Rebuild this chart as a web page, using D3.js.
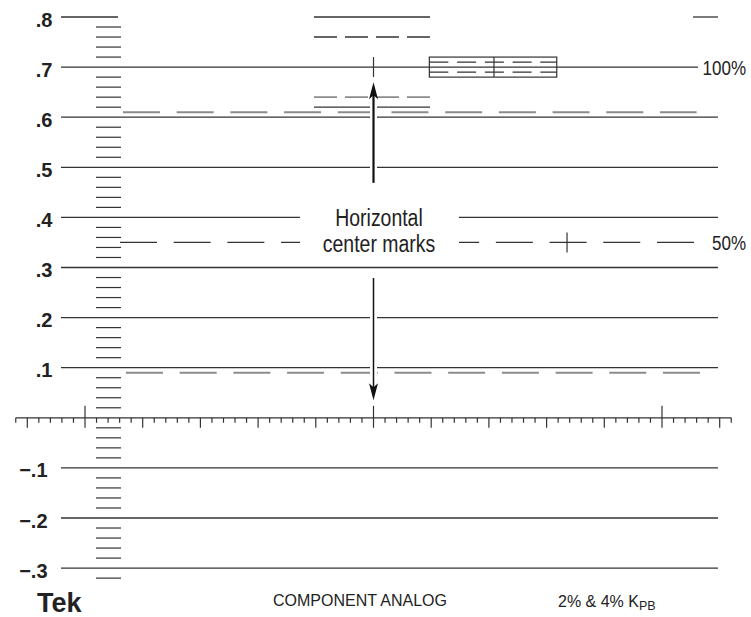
<!DOCTYPE html>
<html><head><meta charset="utf-8">
<script src="https://cdn.jsdelivr.net/npm/d3@7"></script>
<style>body{margin:0;background:#fff}svg{display:block}</style>
</head><body><svg id="c" width="751" height="617"></svg>
<script>
// ---------- data ----------
const yLabelValues = [0.8, 0.7, 0.6, 0.5, 0.4, 0.3, 0.2, 0.1, -0.1, -0.2, -0.3];
const yLabels = [".8", ".7", ".6", ".5", ".4", ".3", ".2", ".1", "\u2212.1", "\u2212.2", "\u2212.3"];
const fullGridLevels = [0.6, 0.5, 0.4, 0.3, 0.2, 0.1, -0.1, -0.2, -0.3];
// partial solid segments: [level, xStart, xEnd] in horizontal divisions
const solidSegments = [[0.8, -2.08, 2.86], [0.8, 19.84, 29.9], [0.8, 52.69, 54.85], [0.7, -2.08, 53.12], [0.62, 19.84, 29.9]];
const shortDashLevels = [0.76, 0.64];            // short dashed marks over the center
const longDashGrey = [[0.61, 3.29, 53.0], [0.09, 3.55, 53.29]];
const level50 = [0.35, 3.03, 53.0];
const kpbBox = [0.68, 0.72, 29.84, 40.88];
const kpbDashLevels = [0.69, 0.71];
const centerMarks = [[25, 0.7], [35.44, 0.7], [41.77, 0.35]];
const scaleTickLevels = [0.78, 0.76, 0.74, 0.72, 0.68, 0.66, 0.64, 0.62, 0.58, 0.56, 0.54, 0.52,
  0.48, 0.46, 0.44, 0.42, 0.38, 0.36, 0.34, 0.32, 0.28, 0.26, 0.24, 0.22, 0.18, 0.16, 0.14, 0.12,
  0.08, 0.06, 0.04, 0.02, -0.02, -0.04, -0.06, -0.08, -0.12, -0.14, -0.16, -0.18,
  -0.22, -0.24, -0.26, -0.28, -0.32];
const hTickRange = [-6, 56];
const majorTicks = [0, 25, 50];
const percentLabels = [["100%", 0.7], ["50%", 0.35]];
const annotationLines = ["Horizontal", "center marks"];
const footerLeft = "Tek", footerMid = "COMPONENT ANALOG", footerRight = "2% & 4% K", footerSub = "PB";

// ---------- scales ----------
const svg = d3.select("#c");
const x = d3.scaleLinear().domain([0, 50]).range([85, 662]);
const y = d3.scaleLinear().domain([0, 0.8]).range([417.8, 17]);
const ink = "#333";
const grey = "#8c8c8c";

const g = svg.append("g");

// full grid lines
g.selectAll("line.grid").data(fullGridLevels).join("line")
  .attr("x1", x(-2.08)).attr("x2", x(54.85))
  .attr("y1", d => y(d)).attr("y2", d => y(d))
  .attr("stroke", ink).attr("stroke-width", 1.3);

// partial solid segments
g.selectAll("line.seg").data(solidSegments).join("line")
  .attr("x1", d => x(d[1])).attr("x2", d => x(d[2]))
  .attr("y1", d => y(d[0])).attr("y2", d => y(d[0]))
  .attr("stroke", ink).attr("stroke-width", 1.3);

// short dashed marks
g.selectAll("line.sd").data(shortDashLevels).join("line")
  .attr("x1", x(19.84)).attr("x2", x(29.9))
  .attr("y1", d => y(d)).attr("y2", d => y(d))
  .attr("stroke", (d, i) => i === 0 ? ink : grey).attr("stroke-width", 1.6)
  .attr("stroke-dasharray", "23,8");

// long grey dashed lines
g.selectAll("line.lg").data(longDashGrey).join("line")
  .attr("x1", d => x(d[1])).attr("x2", d => x(d[2]))
  .attr("y1", d => y(d[0])).attr("y2", d => y(d[0]))
  .attr("stroke", grey).attr("stroke-width", 2)
  .attr("stroke-dasharray", "37,16.7");

// 50% dashed line
g.append("line")
  .attr("x1", x(level50[1])).attr("x2", x(level50[2]))
  .attr("y1", y(level50[0])).attr("y2", y(level50[0]))
  .attr("stroke", ink).attr("stroke-width", 1.3)
  .attr("stroke-dasharray", "37,16.7");

// KPB box
g.append("rect")
  .attr("x", x(kpbBox[2])).attr("y", y(kpbBox[1]))
  .attr("width", x(kpbBox[3]) - x(kpbBox[2])).attr("height", y(kpbBox[0]) - y(kpbBox[1]))
  .attr("fill", "none").attr("stroke", ink).attr("stroke-width", 1.2);
g.selectAll("line.kd").data(kpbDashLevels).join("line")
  .attr("x1", x(kpbBox[2])).attr("x2", x(kpbBox[3]))
  .attr("y1", d => y(d)).attr("y2", d => y(d))
  .attr("stroke", ink).attr("stroke-width", 1.2)
  .attr("stroke-dasharray", "19,8.75");

// center vertical marks
g.selectAll("line.cm").data(centerMarks).join("line")
  .attr("x1", d => x(d[0])).attr("x2", d => x(d[0]))
  .attr("y1", d => y(d[1]) - 10).attr("y2", d => y(d[1]) + 10)
  .attr("stroke", ink).attr("stroke-width", 1.2);

// left scale ticks
g.selectAll("line.st").data(scaleTickLevels).join("line")
  .attr("x1", x(0.95)).attr("x2", x(3.12))
  .attr("y1", d => y(d)).attr("y2", d => y(d))
  .attr("stroke", ink).attr("stroke-width", 1.2);

// horizontal axis
g.append("line").attr("x1", x(hTickRange[0])).attr("x2", x(hTickRange[1]))
  .attr("y1", y(0)).attr("y2", y(0)).attr("stroke", ink).attr("stroke-width", 1.3);
const hticks = d3.range(hTickRange[0], hTickRange[1] + 1);
g.selectAll("line.ht").data(hticks).join("line")
  .attr("x1", d => x(d)).attr("x2", d => x(d))
  .attr("y1", d => majorTicks.includes(d) ? y(0) - 12 : y(0))
  .attr("y2", d => majorTicks.includes(d) ? y(0) + 10 : (d % 5 === 0 ? y(0) + 10 : y(0) + 5))
  .attr("stroke", ink).attr("stroke-width", 1.2);

// white backing behind annotation text
g.append("rect").attr("x", x(18.63)).attr("y", 203)
  .attr("width", x(32.41) - x(18.63)).attr("height", 56).attr("fill", "#fff");

// arrows with halo
function arrow(v0, v1, w) {
  const ax = x(25);
  const y0 = y(v0), y1 = y(v1);
  const dir = y1 < y0 ? -1 : 1;
  g.append("line").attr("x1", ax).attr("x2", ax).attr("y1", y0).attr("y2", y1 - dir * 12)
    .attr("stroke", "#fff").attr("stroke-width", 7);
  g.append("line").attr("x1", ax).attr("x2", ax).attr("y1", y0).attr("y2", y1 - dir * 10)
    .attr("stroke", "#111").attr("stroke-width", w);
  g.append("path")
    .attr("d", `M${ax},${y1} L${ax - 4.5},${y1 - dir * 17} L${ax},${y1 - dir * 13} L${ax + 4.5},${y1 - dir * 17} Z`)
    .attr("fill", "#111");
}
arrow(0.469, 0.67, 2.2);
arrow(0.279, 0.035, 1.5);

// y labels
const font = "'Liberation Sans', Arial, Helvetica, sans-serif";
g.selectAll("text.yl").data(yLabelValues).join("text")
  .attr("x", d => d < 0 ? 47.5 : 52.5)
  .attr("y", d => y(d) + 9.5)
  .attr("text-anchor", "end")
  .attr("font-family", font).attr("font-weight", "bold").attr("font-size", 20)
  .attr("fill", "#222")
  .text((d, i) => yLabels[i]);

// condensed texts: horizontally scaled sans
const squeeze = 0.81;
g.selectAll("text.pl").data(percentLabels).join("text")
  .attr("transform", d => `translate(746,${y(d[1]) + 8}) scale(${squeeze},1)`)
  .attr("text-anchor", "end")
  .attr("font-family", font).attr("font-size", 21).attr("fill", "#222")
  .text(d => d[0]);

g.selectAll("text.an").data(annotationLines).join("text")
  .attr("transform", (d, i) => `translate(379,${226 + i * 26}) scale(${squeeze},1)`)
  .attr("text-anchor", "middle")
  .attr("font-family", font).attr("font-size", 24).attr("fill", "#222")
  .text(d => d);

// footer
g.append("text").attr("x", 37).attr("y", 612)
  .attr("font-family", font).attr("font-weight", "bold").attr("font-size", 27).attr("fill", "#222")
  .text(footerLeft);
g.append("text").attr("x", 273).attr("y", 606)
  .attr("font-family", font).attr("font-size", 16).attr("fill", "#222")
  .text(footerMid);
const fr = g.append("text").attr("x", 558).attr("y", 607)
  .attr("font-family", font).attr("font-size", 16).attr("fill", "#222");
fr.append("tspan").text(footerRight);
fr.append("tspan").attr("font-size", 12.5).attr("dy", 3).text(footerSub);
</script>
</body></html>
